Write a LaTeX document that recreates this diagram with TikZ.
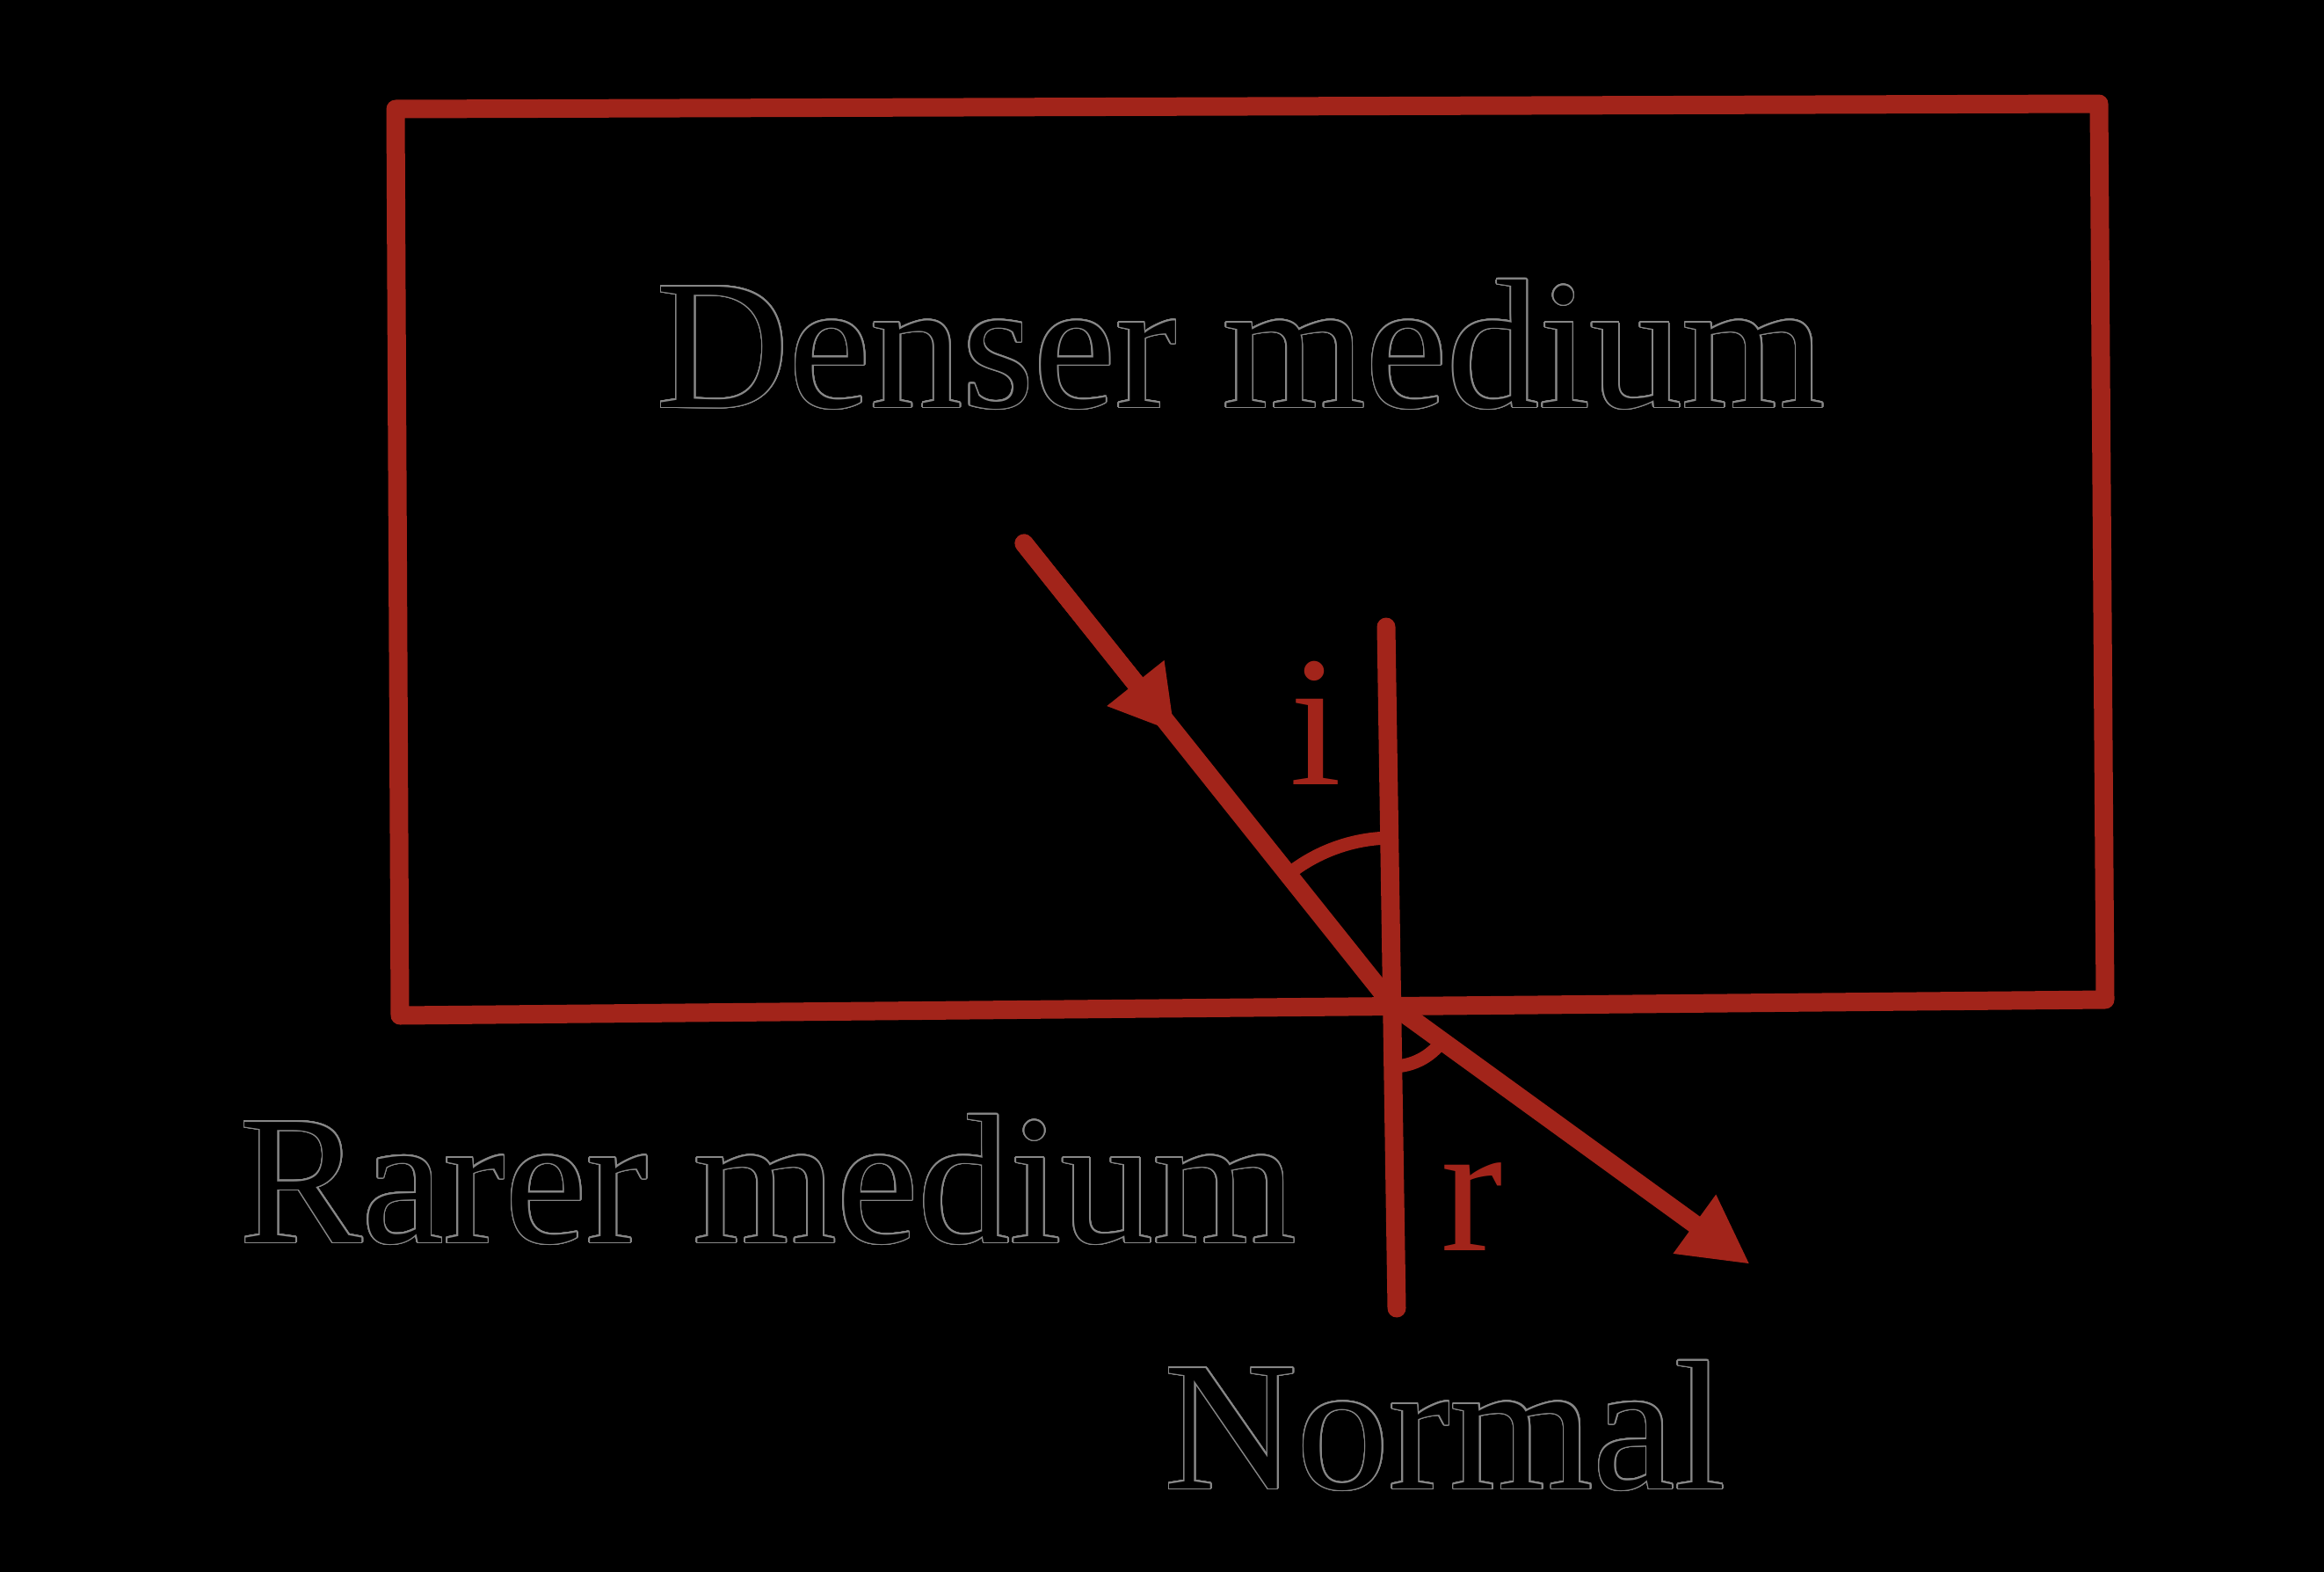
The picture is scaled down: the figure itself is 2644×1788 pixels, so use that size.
\documentclass[tikz,border=0pt]{standalone}
\usepackage{fontspec}
\setmainfont{Liberation Serif}
\usepackage[copies]{contour}
\contourlength{0.45pt}
\contournumber{24}
\usetikzlibrary{arrows.meta,calc}
\definecolor{ink}{RGB}{162,36,26}
\definecolor{olc}{RGB}{135,135,135}
\tikzset{
  edge/.style={draw=ink, line width=2.1mm, line cap=round, line join=round},
  anglearc/.style={draw=ink, line width=1.5mm, line cap=round},
  outlabel/.style={inner sep=0pt, anchor=base west, text=black, font=\fontsize{59.5}{70}\selectfont},
  redlabel/.style={inner sep=0pt, anchor=base, text=ink, font=\fontsize{60.3}{70}\selectfont},
}
\begin{document}
\begin{tikzpicture}[x=0.1mm,y=-0.1mm]
\fill[black] (0,0) rectangle (2644,1788);
\useasboundingbox (0,0) rectangle (2644,1788);
% box
\coordinate (A) at (450,124);
\coordinate (B) at (2388,118);
\coordinate (C) at (2395,1137);
\coordinate (D) at (455,1155);
\draw[edge, line cap=butt] (A) -- (B) -- (C) -- (D) -- cycle;
% normal and rays
\coordinate (N1) at (1577,713);
\coordinate (N2) at (1589,1488);
\coordinate (O) at (1584,1143);
\coordinate (S) at (1165,618);
\coordinate (T) at (1991,1438);
\draw[edge] (N1) -- (N2);
\draw[edge] (S) -- (O);
\draw[edge, -{Triangle[length=7.2mm,width=7.8mm]}] (S) -- ($(S)!0.41!(O)$);
\draw[edge, -{Triangle[length=7.8mm,width=7.7mm]}] (O) -- (T);
% angle arcs
\draw[anglearc] ($(O)+(-128.6:190)$) arc[start angle=-128.6, end angle=-90.9, radius=190];
\draw[anglearc] ($(O)+(89.2:70)$) arc[start angle=89.2, end angle=35.9, radius=70];
% labels
\node[redlabel] (li) at (1497,892) {i};
\node[redlabel] (lr) at (1675,1422) {r};
\node[outlabel] (dense) at (746,463) {\contour{olc}{Denser medium}};
\node[outlabel] (rare) at (272,1413) {\contour{olc}{Rarer medium}};
\node[outlabel] (norm) at (1324,1693) {\contour{olc}{Normal}};
\end{tikzpicture}
\end{document}
